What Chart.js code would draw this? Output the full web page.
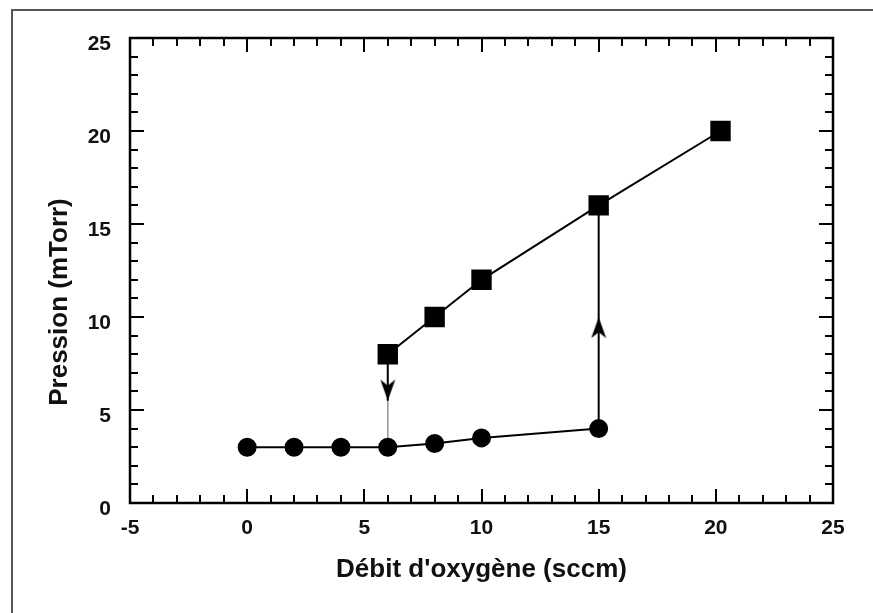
<!DOCTYPE html>
<html>
<head>
<meta charset="utf-8">
<script src="https://cdn.jsdelivr.net/npm/chart.js@4/dist/chart.umd.min.js"></script>
<style>
  html, body { margin: 0; padding: 0; background: #fff; }
  #wrap { position: relative; width: 873px; height: 613px; overflow: hidden; }
  #frame { position: absolute; left: 11px; top: 9px; width: 900px; height: 700px;
           border-left: 2px solid #555; border-top: 2px solid #555; }
  #myChart { position: absolute; left: 0; top: 0; }
</style>
</head>
<body>
<div id="wrap">
  <div id="frame"></div>
  <canvas id="myChart" width="873" height="613"></canvas>
</div>
<script>
// data
const flowLow = [0, 2, 4, 6, 8, 10, 15];
const pressureLow = [3, 3, 3, 3, 3.2, 3.5, 4];
const flowHigh = [6, 8, 10, 15, 20.2];
const pressureHigh = [8, 10, 12, 16, 20];

// jumps between the two branches, with arrows on them
const jumpUpX = 15;
const jumpUp = [4, 16];
const jumpUpArrow = 9.4;
const jumpDownX = 6;
const jumpDown = [8, 5.5, 3];
const jumpDownArrow = 6.1;

const xTitle = "Débit d'oxygène (sccm)";
const yTitle = 'Pression (mTorr)';
const xMin = -5, xMax = 25, yMin = 0, yMax = 25;

const FONT = '"Liberation Sans", Arial, Helvetica, sans-serif';

function pts(xs, ys) {
    return xs.map(function (x, i) { return { x: x, y: ys[i] }; });
}

function makeArrow(up) {
    const c = document.createElement('canvas');
    c.width = 16; c.height = 22;
    const g = c.getContext('2d');
    g.fillStyle = '#000';
    g.beginPath();
    if (up) {
        g.moveTo(8, 0); g.lineTo(15.5, 21); g.lineTo(8, 15); g.lineTo(0.5, 21);
    } else {
        g.moveTo(8, 22); g.lineTo(15.5, 1); g.lineTo(8, 7); g.lineTo(0.5, 1);
    }
    g.closePath();
    g.fill();
    return c;
}

// inward ticks on all four sides plus the box
const frameTicks = {
    id: 'frameTicks',
    afterDatasetsDraw: function (chart) {
        const ctx = chart.ctx;
        const a = chart.chartArea;
        const xs = chart.scales.x, ys = chart.scales.y;
        ctx.save();
        ctx.strokeStyle = '#000';
        ctx.lineWidth = 2;
        ctx.beginPath();
        for (let v = xMin; v <= xMax; v++) {
            const px = Math.round(xs.getPixelForValue(v));
            const len = v % 5 === 0 ? 14 : 8;
            ctx.moveTo(px, a.bottom); ctx.lineTo(px, a.bottom - len);
            ctx.moveTo(px, a.top); ctx.lineTo(px, a.top + len);
        }
        for (let v = yMin; v <= yMax; v++) {
            const py = Math.round(ys.getPixelForValue(v));
            const len = v % 5 === 0 ? 14 : 8;
            ctx.moveTo(a.left, py); ctx.lineTo(a.left + len, py);
            ctx.moveTo(a.right, py); ctx.lineTo(a.right - len, py);
        }
        ctx.stroke();
        ctx.lineWidth = 2.5;
        ctx.strokeRect(a.left, a.top, a.right - a.left, a.bottom - a.top);

        // y title, sits a bit lower than the middle of the axis
        ctx.fillStyle = '#111';
        ctx.font = 'bold 26px ' + FONT;
        ctx.textAlign = 'center';
        ctx.textBaseline = 'middle';
        ctx.translate(60, 302);
        ctx.rotate(-Math.PI / 2);
        ctx.fillText(yTitle, 0, 0);
        ctx.restore();
    }
};

document.addEventListener('DOMContentLoaded', function () {
    const ctx = document.getElementById('myChart').getContext('2d');
    const myChart = new Chart(ctx, {
        type: 'line',
        data: {
            datasets: [{
                label: 'arrows',
                data: [{ x: jumpUpX, y: jumpUpArrow }, { x: jumpDownX, y: jumpDownArrow }],
                showLine: false,
                pointStyle: [makeArrow(true), makeArrow(false)],
                pointRadius: 10
            }, {
                label: 'low',
                data: pts(flowLow, pressureLow),
                borderColor: '#000',
                backgroundColor: '#000',
                borderWidth: 2,
                pointStyle: 'circle',
                pointRadius: 8.5,
                fill: false
            }, {
                label: 'high',
                data: pts(flowHigh, pressureHigh),
                borderColor: '#000',
                backgroundColor: '#000',
                borderWidth: 2,
                pointStyle: 'rect',
                pointRadius: 13,
                fill: false
            }, {
                label: 'up',
                data: pts([jumpUpX, jumpUpX], jumpUp),
                borderColor: '#000',
                borderWidth: 2,
                pointRadius: 0
            }, {
                label: 'down',
                data: pts([jumpDownX, jumpDownX], jumpDown.slice(0, 2)),
                borderColor: '#000',
                borderWidth: 2,
                pointRadius: 0
            }, {
                label: 'down thin',
                data: pts([jumpDownX, jumpDownX], jumpDown.slice(1)),
                borderColor: '#999',
                borderWidth: 1,
                pointRadius: 0
            }]
        },
        options: {
            responsive: false,
            animation: false,
            devicePixelRatio: 1,
            layout: { padding: { left: 0, right: 40, top: 38, bottom: 0 } },
            plugins: {
                legend: { display: false },
                tooltip: { enabled: false }
            },
            scales: {
                x: {
                    type: 'linear',
                    min: xMin, max: xMax,
                    grid: { display: false, drawTicks: false },
                    border: { display: false },
                    ticks: {
                        stepSize: 5,
                        padding: 13,
                        color: '#111',
                        font: { family: FONT, size: 21, weight: 'bold' }
                    },
                    title: {
                        display: true,
                        text: xTitle,
                        color: '#111',
                        padding: { top: 0, bottom: 28 },
                        font: { family: FONT, size: 26, weight: 'bold' }
                    },
                    afterFit: function (s) { s.height = 110; }
                },
                y: {
                    type: 'linear',
                    min: yMin, max: yMax,
                    grid: { display: false, drawTicks: false },
                    border: { display: false },
                    ticks: {
                        stepSize: 5,
                        padding: 19,
                        labelOffset: 6,
                        color: '#111',
                        font: { family: FONT, size: 21, weight: 'bold' }
                    },
                    afterFit: function (s) { s.width = 130; }
                }
            }
        },
        plugins: [frameTicks]
    });
});
</script>
</body>
</html>
